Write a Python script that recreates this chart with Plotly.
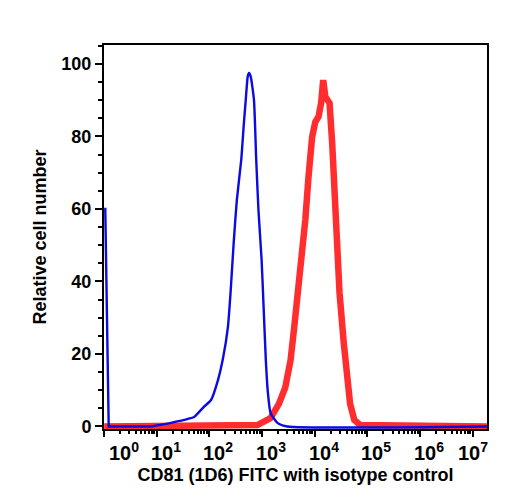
import numpy as np
import plotly.graph_objects as go

# ---- data (fluorescence intensity vs relative cell number) ----
isotype_x = [1.0, 1.05, 1.22, 7.8, 18.6, 33, 51, 78, 107, 145, 178, 224, 251, 288, 331,
             401, 447, 488, 532, 563, 607, 700, 770, 851, 977, 1072, 1175, 1288, 1445,
             1950, 3020, 2.0e7]
isotype_y = [60, 60, 0, 0, 1.0, 1.8, 2.6, 5.4, 7.3, 12.8, 18.3, 27.4, 36.8, 50.6, 62.5,
             73.5, 83, 90, 96.5, 97.5, 96.5, 90, 74, 59.7, 45.9, 32.1, 18.3, 9.2, 3.7,
             1.0, 0, 0]

cd81_x = [1.0, 813, 1445, 2090, 2750, 3470, 4070, 4790, 5750, 6610, 7590, 8910, 10230, 11750,
          13180, 14450, 15850, 19050, 21380, 23440, 26300, 29510, 35480, 40740, 46770,
          56230, 72440, 2.0e7]
cd81_y = [0, 0.4, 2.3, 6.3, 10.8, 18.3, 27.4, 36.8, 45.9, 57, 68.8, 79.9, 84, 85.4,
          89.2, 95.5, 90.9, 89.2, 78.2, 64.4, 50.6, 36.8, 23, 13.7, 6.3, 1.8, 0.4, 0]

x_tick_vals = [1, 10, 100, 1000, 1e4, 1e5, 1e6, 1e7]
x_tick_exp = ["0", "1", "2", "3", "4", "5", "6", "7"]
y_tick_vals = [0, 20, 40, 60, 80, 100]

x_title = "CD81 (1D6) FITC with isotype control"
y_title = "Relative cell number"

FONT = dict(family="Liberation Sans, Arial, sans-serif", size=18, color="black", weight=700)
XLAB_FONT = dict(FONT, size=20)

BLUE = dict(color="rgb(10,10,225)", width=2.4)

fig = go.Figure()
fig.add_trace(go.Scatter(x=cd81_x, y=cd81_y, mode="lines",
                         line=dict(color="rgb(255,45,45)", width=6.5), showlegend=False))
# isotype: sharp spike at the left edge, smooth histogram afterwards
fig.add_trace(go.Scatter(x=isotype_x[:4], y=isotype_y[:4], mode="lines",
                         line=BLUE, showlegend=False))
fig.add_trace(go.Scatter(x=isotype_x[3:], y=isotype_y[3:], mode="lines",
                         line=dict(BLUE, shape="spline", smoothing=0.5),
                         showlegend=False))

minor_x = [k * 10 ** d for d in range(0, 8) for k in range(2, 10)]

fig.update_xaxes(
    type="log", range=[-0.003, 7.27],
    showline=True, linecolor="black", linewidth=2, mirror=True,
    showgrid=False, zeroline=False,
    tickmode="array", tickvals=x_tick_vals, showticklabels=False,
    ticks="outside", ticklen=6, tickwidth=2, tickcolor="black",
    minor=dict(tickmode="array", tickvals=minor_x, ticks="outside", ticklen=3,
               tickwidth=1.5, tickcolor="black", showgrid=False),
    title=dict(text=x_title, font=FONT, standoff=32),
)
fig.update_yaxes(
    range=[-0.7, 105.2],
    showline=True, linecolor="black", linewidth=2, mirror=True,
    showgrid=False, zeroline=False,
    tickmode="array", tickvals=y_tick_vals,
    ticks="outside", ticklen=7, tickwidth=2, tickcolor="black",
    tickfont=FONT,
    minor=dict(dtick=5, ticks="outside", ticklen=4, tickwidth=1.5, tickcolor="black",
               showgrid=False),
    title=dict(text=y_title, font=FONT, standoff=10),
)

# x tick labels as annotations so they can be nudged like the original
x_label_shift = [20, 9, 9, 9, 9, 9, 9, 0]
for v, e, s in zip(x_tick_vals, x_tick_exp, x_label_shift):
    fig.add_annotation(x=np.log10(v), y=0, xref="x", yref="paper",
                       text="10<sup>%s</sup>" % e,
                       showarrow=False, xanchor="center", yanchor="top",
                       xshift=s, yshift=-8, font=XLAB_FONT)

fig.update_layout(
    width=508, height=500,
    margin=dict(l=104, r=21, t=45, b=71, autoexpand=False),
    plot_bgcolor="white", paper_bgcolor="white",
)

fig.write_html("out.html")
